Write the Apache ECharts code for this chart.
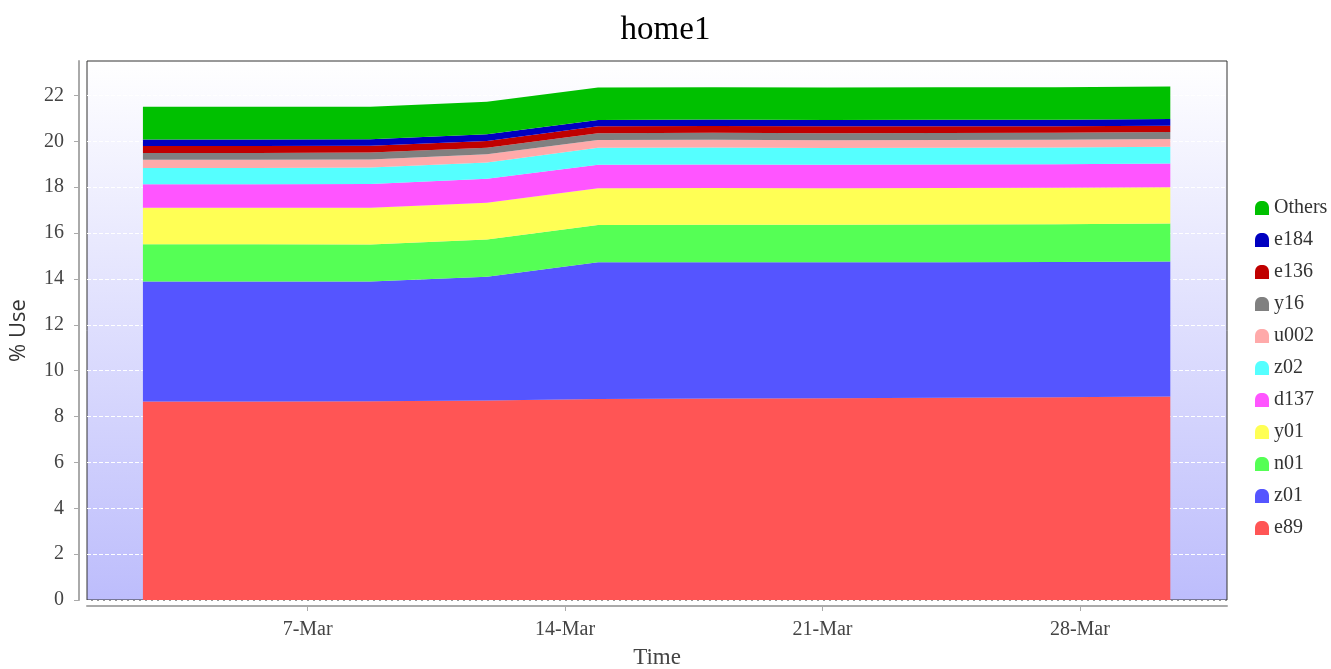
<!DOCTYPE html>
<html>
<head>
<meta charset="utf-8">
<script src="https://cdn.jsdelivr.net/npm/echarts@6/dist/echarts.min.js"></script>
<style>
  html, body { margin: 0; padding: 0; background: #ffffff; }
  #chart { width: 1331px; height: 669px; }
</style>
</head>
<body>
<div id="chart"></div>
<script>
// ---- data ----
const times = ['2023-03-02 12:30', '2023-03-05 14:00', '2023-03-08 17:00', '2023-03-11 21:00', '2023-03-14 21:30',
               '2023-03-18 00:30', '2023-03-21 03:00', '2023-03-24 05:00', '2023-03-27 08:00', '2023-03-30 11:00'];
const seriesNames = ['e89', 'z01', 'n01', 'y01', 'd137', 'z02', 'u002', 'y16', 'e136', 'e184', 'Others'];
const e89    = [8.65, 8.65, 8.66, 8.70, 8.76, 8.78, 8.80, 8.82, 8.84, 8.87];
const z01    = [5.24, 5.24, 5.23, 5.39, 5.97, 5.95, 5.93, 5.91, 5.90, 5.89];
const n01    = [1.62, 1.62, 1.61, 1.63, 1.62, 1.63, 1.63, 1.64, 1.64, 1.65];
const y01    = [1.59, 1.59, 1.60, 1.60, 1.60, 1.60, 1.59, 1.59, 1.59, 1.59];
const d137   = [1.03, 1.03, 1.04, 1.05, 1.03, 1.03, 1.03, 1.03, 1.03, 1.03];
const z02    = [0.71, 0.71, 0.72, 0.70, 0.74, 0.74, 0.73, 0.73, 0.73, 0.73];
const u002   = [0.35, 0.35, 0.35, 0.36, 0.34, 0.34, 0.34, 0.34, 0.34, 0.34];
const y16    = [0.30, 0.30, 0.30, 0.29, 0.29, 0.30, 0.30, 0.30, 0.30, 0.30];
const e136   = [0.30, 0.30, 0.29, 0.29, 0.31, 0.30, 0.30, 0.29, 0.28, 0.28];
const e184   = [0.29, 0.29, 0.29, 0.30, 0.27, 0.28, 0.28, 0.29, 0.29, 0.29];
const others = [1.43, 1.43, 1.42, 1.41, 1.41, 1.41, 1.42, 1.42, 1.42, 1.42];
const seriesValues = [e89, z01, n01, y01, d137, z02, u002, y16, e136, e184, others];
const xTickDates = ['2023-03-07', '2023-03-14', '2023-03-21', '2023-03-28'];
const yTickValues = [0, 2, 4, 6, 8, 10, 12, 14, 16, 18, 20, 22];
const monthNames = ['Jan','Feb','Mar','Apr','May','Jun','Jul','Aug','Sep','Oct','Nov','Dec'];

// ---- styles ----
const colors = ['#ff5555', '#5555ff', '#55ff55', '#ffff55', '#ff55ff', '#55ffff', '#ffaaaa', '#808080', '#c00000', '#0000c0', '#00c000'];
const serif = 'Liberation Serif';

function parseLocal(s) {
  const [d, t] = s.split(' ');
  const [Y, M, D] = d.split('-').map(Number);
  let h = 0, m = 0;
  if (t) { [h, m] = t.split(':').map(Number); }
  return new Date(Y, M - 1, D, h, m).getTime();
}

const tickVals = xTickDates.map(parseLocal);
const xMin = parseLocal('2023-03-01 00:00');
const xMax = parseLocal('2023-04-01 00:00');

const series = seriesNames.map((name, i) => ({
  name: name,
  type: 'line',
  stack: 'total',
  xAxisIndex: 0,
  symbol: 'none',
  showSymbol: false,
  lineStyle: { width: 0 },
  areaStyle: { color: colors[i], opacity: 1 },
  itemStyle: { color: colors[i] },
  data: times.map((t, j) => [parseLocal(t), seriesValues[i][j]])
}));

const chart = echarts.init(document.getElementById('chart'), null, { renderer: 'canvas' });
chart.setOption({
  backgroundColor: '#ffffff',
  animation: false,
  color: colors,
  title: {
    text: 'home1',
    left: 'center',
    top: 9,
    textStyle: { fontFamily: serif, fontSize: 33, fontWeight: 'normal', color: '#000' }
  },
  legend: {
    orient: 'vertical',
    left: 1250,
    top: 193,
    itemWidth: 14,
    itemHeight: 14,
    itemGap: 12,
    icon: 'path://M0,12 L0,6 C0,1.5 3,0 6,0 C9,0 12,1.5 12,6 L12,12 Z',
    data: seriesNames.slice().reverse(),
    textStyle: { fontFamily: serif, fontSize: 20, color: '#333' }
  },
  grid: {
    left: 87, right: 104, top: 61, bottom: 69,
    outerBoundsMode: 'none',
    containLabel: false,
    show: true,
    borderColor: '#333',
    borderWidth: 1,
    backgroundColor: new echarts.graphic.LinearGradient(0, 0, 0, 1, [
      { offset: 0, color: '#ffffff' },
      { offset: 1, color: '#bdbdfc' }
    ])
  },
  xAxis: [{
    type: 'time',
    min: xMin,
    max: xMax,
    axisLine: { show: false },
    axisTick: { show: false },
    axisLabel: { show: false },
    splitLine: { show: false }
  }, {
    type: 'value',
    position: 'bottom',
    min: xMin,
    max: xMax,
    offset: 6,
    name: 'Time',
    nameLocation: 'middle',
    nameGap: 40,
    nameTextStyle: { fontFamily: serif, fontSize: 23, color: '#444' },
    axisLine: { show: true, onZero: false, lineStyle: { color: '#aaa', width: 2 } },
    axisTick: { show: true, customValues: tickVals, length: 5, lineStyle: { color: '#aaa' } },
    axisLabel: {
      customValues: tickVals,
      fontFamily: serif, fontSize: 20, color: '#444', margin: 14,
      formatter: function (v) { const d = new Date(v); return d.getDate() + '-' + monthNames[d.getMonth()]; }
    },
    splitLine: { show: false }
  }],
  yAxis: {
    type: 'value',
    min: 0,
    max: 23.5,
    offset: 8,
    name: '% Use',
    nameLocation: 'middle',
    nameGap: 49,
    nameTextStyle: { fontFamily: 'Open Sans', fontSize: 22, color: '#333' },
    axisLine: { show: true, lineStyle: { color: '#aaa', width: 2 } },
    axisTick: { show: true, customValues: yTickValues, length: 5, lineStyle: { color: '#aaa' } },
    axisLabel: { customValues: yTickValues, fontFamily: serif, fontSize: 20, color: '#444', margin: 15 },
    splitLine: { show: true, lineStyle: { color: '#ffffff', type: 'dashed', width: 1 } }
  },
  series: series
});
</script>
</body>
</html>
